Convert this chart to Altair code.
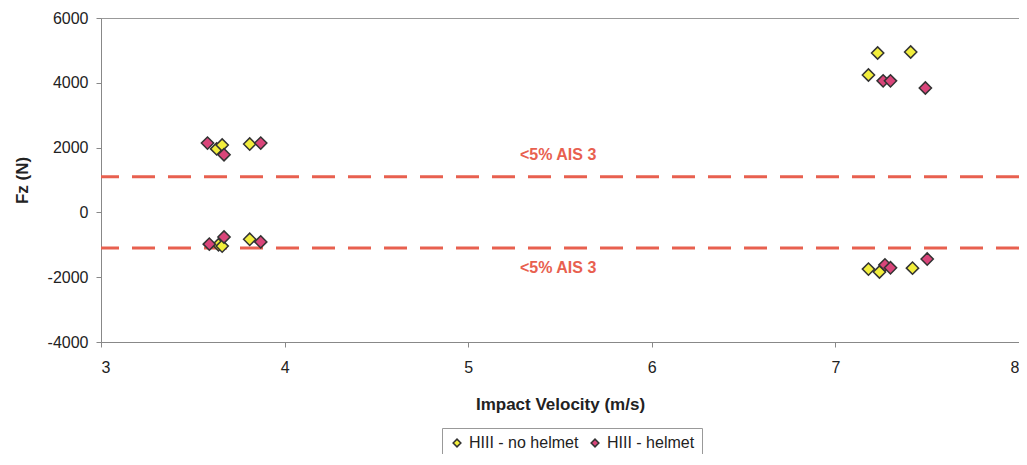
import altair as alt
import pandas as pd

# Impact velocity (m/s) and Fz (N)
nohelmet_v = [3.63, 3.66, 3.81, 3.64, 3.66, 3.81, 7.23, 7.41, 7.18, 7.18, 7.24, 7.42]
nohelmet_fz = [1960, 2080, 2110, -1000, -1040, -830, 4920, 4950, 4240, -1750, -1840, -1720]
helmet_v = [3.58, 3.67, 3.87, 3.59, 3.67, 3.87, 7.26, 7.30, 7.49, 7.27, 7.30, 7.50]
helmet_fz = [2140, 1780, 2140, -980, -760, -910, 4060, 4060, 3840, -1620, -1710, -1440]

series_names = ["HIII - no helmet", "HIII - helmet"]
series_colors = ["#f2ee3c", "#d9457a"]

threshold_values = [1100, -1100]
threshold_labels = ["<5% AIS 3", "<5% AIS 3"]
label_v = [5.49, 5.49]
label_fz = [1780, -1720]

pts = pd.DataFrame({
    "v": nohelmet_v + helmet_v,
    "fz": nohelmet_fz + helmet_fz,
    "series": [series_names[0]] * len(nohelmet_v) + [series_names[1]] * len(helmet_v),
})
thr = pd.DataFrame({"fz": threshold_values})
lab = pd.DataFrame({"v": label_v, "fz": label_fz, "text": threshold_labels})

FONT = "Liberation Sans"
RED = "#e8604f"

xscale = alt.Scale(domain=[3, 8], nice=False, zero=False)
yscale = alt.Scale(domain=[-4000, 6000], nice=False, zero=False)

points = alt.Chart(pts).mark_point(
    shape="diamond", filled=True, size=150, stroke="#333333", strokeWidth=1.5, opacity=1
).encode(
    x=alt.X("v:Q", scale=xscale, axis=alt.Axis(
        title="Impact Velocity (m/s)", values=[3, 4, 5, 6, 7, 8],
        labelExpr="'' + datum.value",
        grid=False, tickSize=5, labelPadding=12, titlePadding=21,
        domainColor="#888888", tickColor="#888888",
        labelFontSize=16, labelColor="#222222", labelFont=FONT,
        titleFontSize=17, titleFont=FONT, titleColor="#222222", titleFontWeight="bold")),
    y=alt.Y("fz:Q", scale=yscale, axis=alt.Axis(
        title="Fz (N)", values=[-4000, -2000, 0, 2000, 4000, 6000],
        labelExpr="'' + datum.value",
        grid=False, tickSize=5, labelPadding=8, titlePadding=16,
        domainColor="#888888", tickColor="#888888",
        labelFontSize=16, labelColor="#222222", labelFont=FONT,
        titleFontSize=17, titleFont=FONT, titleColor="#222222", titleFontWeight="bold")),
    fill=alt.Fill("series:N", scale=alt.Scale(domain=series_names, range=series_colors),
                  legend=alt.Legend(title=None, orient="none", direction="horizontal",
                                    legendX=341, legendY=410, symbolType="diamond",
                                    symbolSize=60, symbolStrokeColor="#333333", symbolStrokeWidth=1.5,
                                    labelFont=FONT, labelFontSize=16, labelColor="#222222",
                                    strokeColor="#999999", padding=7, columnPadding=8,
                                    symbolOffset=0, labelOffset=4)),
)

rules = alt.Chart(thr).mark_rule(color=RED, strokeWidth=3, strokeDash=[23, 13]).encode(
    y=alt.Y("fz:Q", scale=yscale)
)

texts = alt.Chart(lab).mark_text(color=RED, font=FONT, fontSize=16, fontWeight="bold").encode(
    x=alt.X("v:Q", scale=xscale), y=alt.Y("fz:Q", scale=yscale), text="text:N"
)

chart = alt.layer(rules, texts, points).properties(
    width=918, height=324,
    autosize=alt.AutoSizeParams(type="none"),
    padding={"left": 93, "top": 10, "right": 0, "bottom": 112},
    background="white",
).configure_view(stroke="#999999", strokeWidth=1)

chart.save("out.html", embed_options={"renderer": "svg", "actions": False})
